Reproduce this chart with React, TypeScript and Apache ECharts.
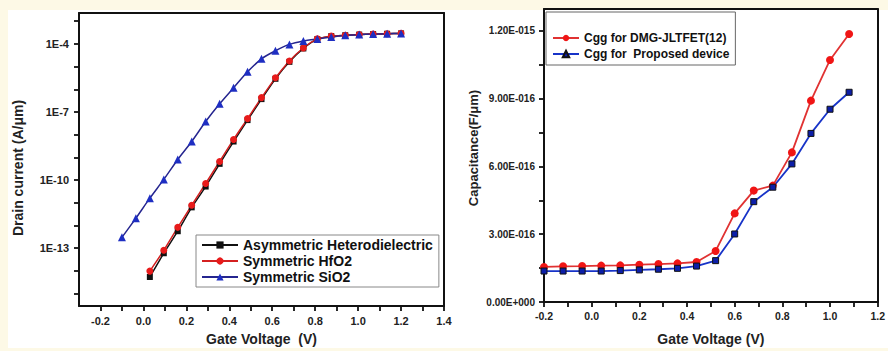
import React, { useEffect, useRef } from "react";
import * as echarts from "echarts";

// ---------- Left chart: drain current vs gate voltage (log scale) ----------
const leftNames = ["Asymmetric Heterodielectric", "Symmetric HfO2", "Symmetric SiO2"];
const vgHetero = [0.03, 0.095, 0.16, 0.225, 0.29, 0.355, 0.42, 0.485, 0.55, 0.615, 0.68, 0.745, 0.81, 0.875, 0.94, 1.005, 1.07, 1.135, 1.2];
const idHetero = [5.4e-15, 6.0e-14, 5.6e-13, 6.3e-12, 5.2e-11, 5.2e-10, 5.0e-9, 4.4e-8, 3.7e-7, 2.9e-6, 1.62e-5, 6.3e-5, 1.62e-4, 2.2e-4, 2.4e-4, 2.57e-4, 2.7e-4, 2.8e-4, 2.9e-4];
const vgHfO2 = [0.03, 0.095, 0.16, 0.225, 0.29, 0.355, 0.42, 0.485, 0.55, 0.615, 0.68, 0.745, 0.81, 0.875, 0.94, 1.005, 1.07, 1.135, 1.2];
const idHfO2 = [9.8e-15, 8.1e-14, 8.3e-13, 7.8e-12, 7.1e-11, 6.6e-10, 6.2e-9, 5.1e-8, 4.3e-7, 3.2e-6, 1.78e-5, 6.6e-5, 1.66e-4, 2.2e-4, 2.4e-4, 2.57e-4, 2.7e-4, 2.8e-4, 2.9e-4];
const vgSiO2 = [-0.1, -0.035, 0.03, 0.095, 0.16, 0.225, 0.29, 0.355, 0.42, 0.485, 0.55, 0.615, 0.68, 0.745, 0.81, 0.875, 0.94, 1.005, 1.07, 1.135, 1.2];
const idSiO2 = [3.0e-13, 2.1e-12, 1.6e-11, 1.07e-10, 8.1e-10, 5.0e-9, 3.8e-8, 2.3e-7, 1.17e-6, 5.9e-6, 2.2e-5, 5.0e-5, 9.5e-5, 1.35e-4, 1.66e-4, 2.0e-4, 2.4e-4, 2.57e-4, 2.7e-4, 2.8e-4, 2.9e-4];
const leftXMin = -0.3;
const leftXMax = 1.4;
const leftYMinExp = -15.546;
const leftYMaxExp = -2.639;
const leftXLabelValues = [-0.2, 0.0, 0.2, 0.4, 0.6, 0.8, 1.0, 1.2, 1.4];
const leftXTickValues = [-0.2, -0.1, 0.0, 0.1, 0.2, 0.3, 0.4, 0.5, 0.6, 0.7, 0.8, 0.9, 1.0, 1.1, 1.2, 1.3, 1.4];
const leftYTickExponents = [-15, -14, -13, -12, -11, -10, -9, -8, -7, -6, -5, -4, -3];
const leftYLabelExponents = [-13, -10, -7, -4];
const leftYLabels = ["1E-13", "1E-10", "1E-7", "1E-4"];

// ---------- Right chart: capacitance vs gate voltage ----------
const rightNames = ["Cgg for DMG-JLTFET(12)", "Cgg for  Proposed device"];
const vgCap = [-0.2, -0.12, -0.04, 0.04, 0.12, 0.2, 0.28, 0.36, 0.44, 0.52, 0.6, 0.68, 0.76, 0.84, 0.92, 1.0, 1.08];
const cggDMG = [1.55e-16, 1.58e-16, 1.59e-16, 1.61e-16, 1.62e-16, 1.65e-16, 1.68e-16, 1.71e-16, 1.77e-16, 2.26e-16, 3.92e-16, 4.93e-16, 5.15e-16, 6.62e-16, 8.91e-16, 1.071e-15, 1.186e-15];
const cggProposed = [1.37e-16, 1.37e-16, 1.37e-16, 1.37e-16, 1.39e-16, 1.42e-16, 1.45e-16, 1.49e-16, 1.59e-16, 1.83e-16, 3.01e-16, 4.44e-16, 5.08e-16, 6.11e-16, 7.46e-16, 8.53e-16, 9.28e-16];
const rightXMin = -0.2;
const rightXMax = 1.2;
const rightYMin = 0;
const rightYMax = 1.2965e-15;
const rightXTickValues = [-0.2, -0.1, 0.0, 0.1, 0.2, 0.3, 0.4, 0.5, 0.6, 0.7, 0.8, 0.9, 1.0, 1.1, 1.2];
const rightXLabelValues = [-0.2, 0.0, 0.2, 0.4, 0.6, 0.8, 1.0, 1.2];
const rightYTickValues = [0, 3e-16, 6e-16, 9e-16, 1.2e-15];
const rightYMinorValues = [0, 1.5e-16, 3e-16, 4.5e-16, 6e-16, 7.5e-16, 9e-16, 1.05e-15, 1.2e-15];
const rightYLabels = ["0.00E+000", "3.00E-016", "6.00E-016", "9.00E-016", "1.20E-015"];

const FONT = "'Liberation Sans', Arial, Helvetica, sans-serif";

export default function App() {
  const ref = useRef<HTMLDivElement>(null);
  useEffect(() => {
    if (!ref.current) return;
    const chart = echarts.init(ref.current, undefined, { renderer: "svg" });
    const labelStyle = { fontFamily: FONT, fontWeight: "bold" as const, fontSize: 11, color: "#222" };
    const nameStyle = { fontFamily: FONT, fontWeight: "bold" as const, fontSize: 14, color: "#222" };
    const lineAxis = { show: true, onZero: false, lineStyle: { color: "#111", width: 2 } };
    const tick = (values: number[]) => ({
      show: true, length: 5, customValues: values,
      lineStyle: { color: "#111", width: 1.8 },
    });
    const frameAxis = (gridIndex: number, position: string, min: number, max: number) => ({
      type: "value", gridIndex, position, min, max,
      axisLine: lineAxis, axisTick: { show: false }, axisLabel: { show: false }, splitLine: { show: false },
    });
    const zip = (xs: number[], ys: number[], f: (v: number) => number = (v) => v) =>
      xs.map((x, i) => [x, f(ys[i])]);

    chart.setOption({
      animation: false,
      backgroundColor: "transparent",
      graphic: [
        {
          type: "text", x: 18, y: 168, rotation: Math.PI / 2,
          style: { text: "Drain current (A/\u03bcm)", font: `bold 14px ${FONT}`, fill: "#222", align: "center", verticalAlign: "middle" },
        },
        {
          type: "text", x: 473, y: 148, rotation: Math.PI / 2,
          style: { text: "Capacitance(F/\u03bcm)", font: `bold 13px ${FONT}`, fill: "#222", align: "center", verticalAlign: "middle" },
        },
      ],
      grid: [
        { left: 79, top: 13, width: 365, height: 294 },
        { left: 544, top: 9, width: 337, height: 293 },
      ],
      legend: [
        {
          orient: "vertical", left: 196, top: 235, data: leftNames,
          backgroundColor: "#fff", borderColor: "#888", borderWidth: 1, padding: [3, 6, 3, 5],
          itemWidth: 36, itemHeight: 9, itemGap: 2, selectedMode: false,
          textStyle: { fontFamily: FONT, fontWeight: "bold", fontSize: 14, color: "#111", lineHeight: 14 },
        },
        {
          orient: "vertical", left: 546, top: 12, data: rightNames,
          backgroundColor: "#fff", borderColor: "#666", borderWidth: 1, padding: [20, 6, 5, 6],
          itemWidth: 26, itemHeight: 8, itemGap: 4, selectedMode: false,
          textStyle: { fontFamily: FONT, fontWeight: "bold", fontSize: 12, color: "#111", lineHeight: 12 },
        },
      ],
      xAxis: [
        {
          type: "value", gridIndex: 0, position: "bottom", min: leftXMin, max: leftXMax,
          name: "Gate Voltage  (V)", nameLocation: "middle", nameGap: 26, nameTextStyle: nameStyle,
          axisLine: lineAxis, splitLine: { show: false }, axisTick: tick(leftXTickValues),
          axisLabel: { ...labelStyle, margin: 9, customValues: leftXLabelValues, formatter: (v: number) => v.toFixed(1) },
        },
        {
          type: "value", gridIndex: 1, position: "bottom", min: rightXMin, max: rightXMax,
          name: "Gate Voltage (V)", nameLocation: "middle", nameGap: 30, nameTextStyle: nameStyle,
          axisLine: lineAxis, splitLine: { show: false }, axisTick: tick(rightXTickValues),
          axisLabel: { ...labelStyle, fontSize: 10.5, margin: 8, customValues: rightXLabelValues, formatter: (v: number) => v.toFixed(1) },
        },
        frameAxis(0, "top", leftXMin, leftXMax),
        frameAxis(1, "top", rightXMin, rightXMax),
      ],
      yAxis: [
        {
          type: "value", gridIndex: 0, position: "left", min: leftYMinExp, max: leftYMaxExp,
          axisLine: lineAxis, splitLine: { show: false }, axisTick: tick(leftYTickExponents),
          axisLabel: {
            ...labelStyle, margin: 10, customValues: leftYLabelExponents,
            formatter: (v: number) => {
              const i = leftYLabelExponents.findIndex((e) => Math.abs(e - v) < 1e-6);
              return i >= 0 ? leftYLabels[i] : "";
            },
          },
        },
        {
          type: "value", gridIndex: 1, position: "left", min: rightYMin, max: rightYMax,
          axisLine: lineAxis, splitLine: { show: false }, axisTick: tick(rightYMinorValues),
          axisLabel: {
            ...labelStyle, fontSize: 10, margin: 9, customValues: rightYTickValues,
            formatter: (v: number) => {
              const i = rightYTickValues.findIndex((t) => Math.abs(t - v) < 1e-20);
              return i >= 0 ? rightYLabels[i] : "";
            },
          },
        },
        frameAxis(0, "right", leftYMinExp, leftYMaxExp),
        frameAxis(1, "right", rightYMin, rightYMax),
      ],
      series: [
        {
          name: leftNames[0], type: "line", xAxisIndex: 0, yAxisIndex: 0,
          data: zip(vgHetero, idHetero, Math.log10), smooth: 0.2,
          symbol: "rect", symbolSize: 6, lineStyle: { color: "#111", width: 1.5 }, itemStyle: { color: "#111" },
        },
        {
          name: leftNames[1], type: "line", xAxisIndex: 0, yAxisIndex: 0,
          data: zip(vgHfO2, idHfO2, Math.log10), smooth: 0.2,
          symbol: "circle", symbolSize: 7, lineStyle: { color: "#d42020", width: 1.5 }, itemStyle: { color: "#e81b1b" },
        },
        {
          name: leftNames[2], type: "line", xAxisIndex: 0, yAxisIndex: 0,
          data: zip(vgSiO2, idSiO2, Math.log10), smooth: 0.2,
          symbol: "triangle", symbolSize: 8, lineStyle: { color: "#25258f", width: 1.5 }, itemStyle: { color: "#1e2ec2" },
        },
        {
          name: rightNames[0], type: "line", xAxisIndex: 1, yAxisIndex: 1,
          data: zip(vgCap, cggDMG),
          symbol: "circle", symbolSize: 8, lineStyle: { color: "#e03232", width: 1.8 }, itemStyle: { color: "#f01515" },
        },
        {
          name: rightNames[1], type: "line", xAxisIndex: 1, yAxisIndex: 1,
          data: vgCap.map((x, i) => ({ value: [x, cggProposed[i]], symbol: "rect", symbolSize: 6 })),
          symbol: "triangle", symbolSize: 6, lineStyle: { color: "#1733c8", width: 1.8 },
          itemStyle: { color: "#0c1ea8", borderColor: "#111", borderWidth: 1 },
        },
      ],
    });
    return () => chart.dispose();
  }, []);
  return (
    <div style={{ position: "fixed", left: 0, top: 0, width: 888, height: 351, background: "#fdf9e6" }}>
      <div style={{ position: "absolute", left: 8, top: 10, width: 880, height: 338, background: "#ffffff" }} />
      <div ref={ref} style={{ position: "absolute", left: 0, top: 0, width: 888, height: 351 }} />
    </div>
  );
}
